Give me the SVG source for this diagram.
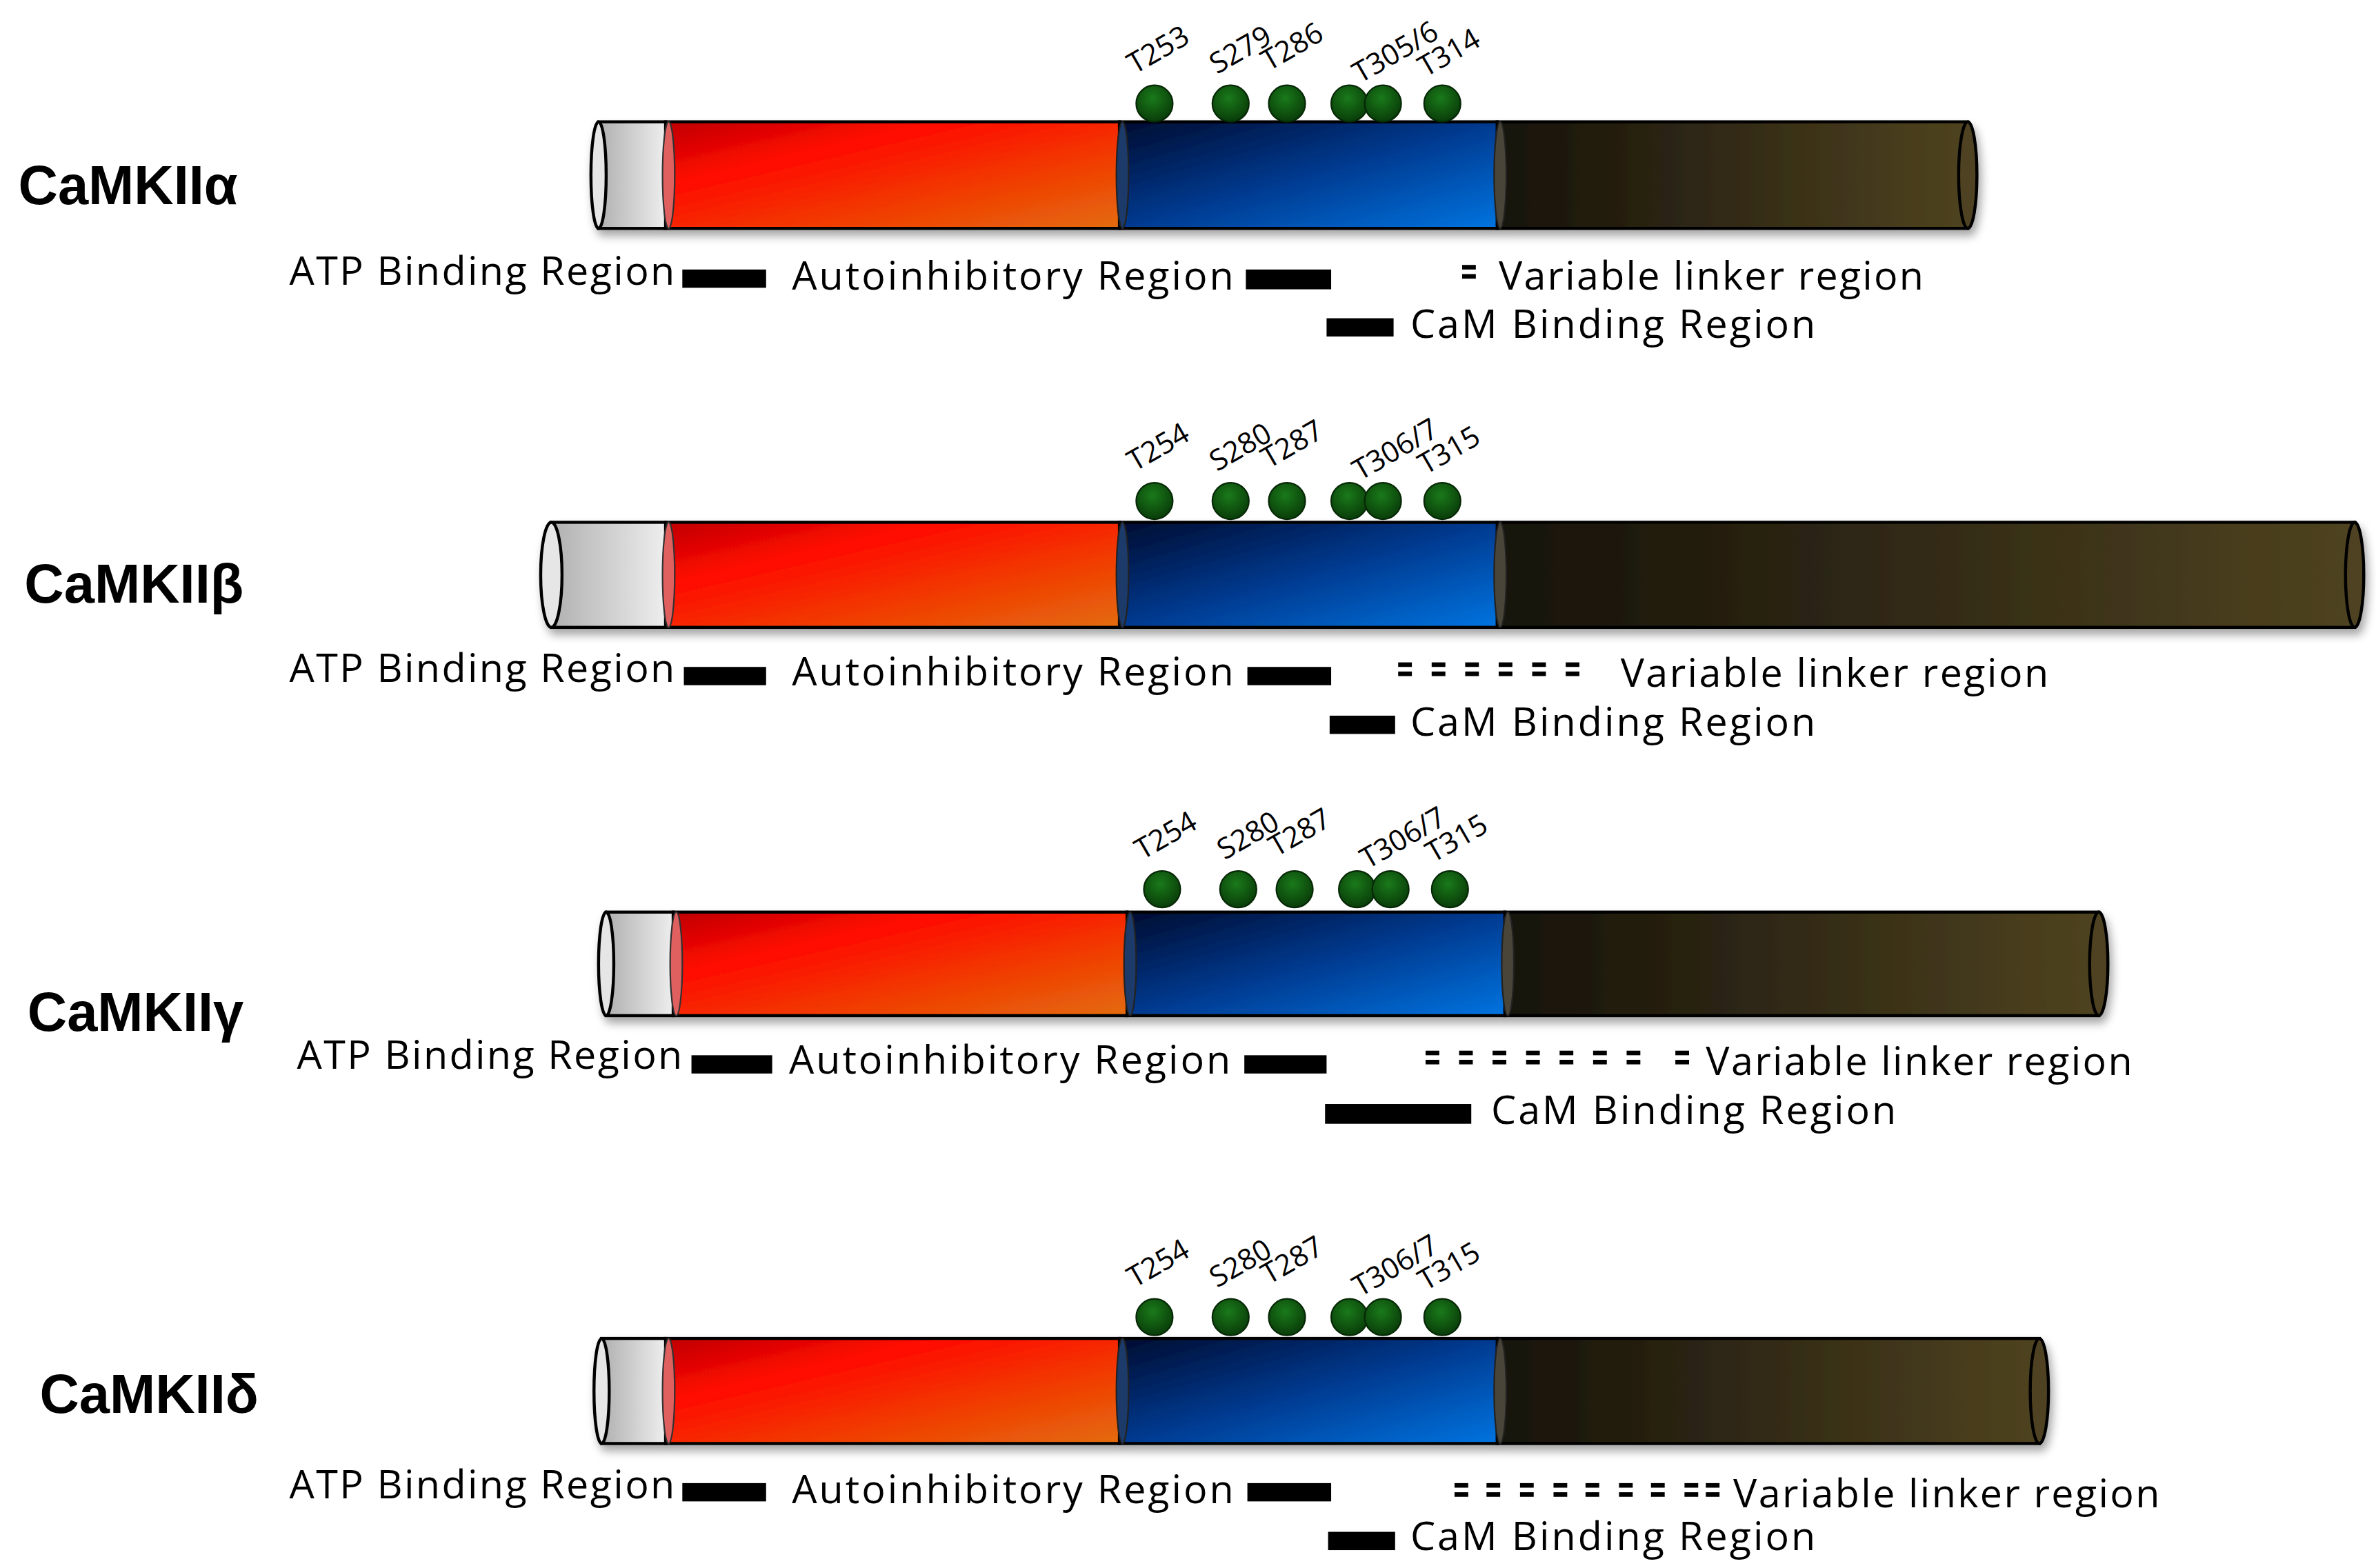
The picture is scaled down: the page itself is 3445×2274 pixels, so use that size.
<svg xmlns="http://www.w3.org/2000/svg" xmlns:xlink="http://www.w3.org/1999/xlink" width="3445" height="2274" viewBox="0 0 3445 2274">
<defs>
<linearGradient id="gRed" x1="0" y1="0" x2="1" y2="1"><stop offset="0" stop-color="#c00000"/><stop offset="0.3" stop-color="#ff0a00"/><stop offset="1" stop-color="#e36c09"/></linearGradient>
<linearGradient id="gBlue" x1="0" y1="0" x2="1" y2="1"><stop offset="0" stop-color="#000c30"/><stop offset="0.5" stop-color="#003a90"/><stop offset="1" stop-color="#0074e0"/></linearGradient>
<linearGradient id="gDark" x1="0" y1="0" x2="1" y2="0"><stop offset="0" stop-color="#16120a"/><stop offset="1" stop-color="#4f4320"/></linearGradient>
<linearGradient id="gCap" x1="0" y1="0" x2="1" y2="0"><stop offset="0" stop-color="#b0b0b0"/><stop offset="1" stop-color="#eeeeee"/></linearGradient>
<radialGradient id="gDot" cx="0.45" cy="0.35" r="0.7"><stop offset="0" stop-color="#1a7a1a"/><stop offset="1" stop-color="#083808"/></radialGradient>
<filter id="sh" x="-5%" y="-20%" width="110%" height="160%"><feDropShadow dx="2" dy="4" stdDeviation="3" flood-color="#000" flood-opacity="0.35"/></filter>
<g id="dot"><ellipse cx="0" cy="0" rx="12" ry="12" fill="url(#gDot)" stroke="#062806" stroke-width="1"/></g>
<g id="dash"><rect x="0" y="0" width="9" height="3" fill="#000"/><rect x="0" y="6" width="9" height="3" fill="#000"/></g>
</defs>
<style>
.lab{font-family:"Open Sans","Liberation Sans",sans-serif;font-size:26px;fill:#000}
.name{font-family:"Liberation Sans","DejaVu Sans",sans-serif;font-size:36px;font-weight:bold;fill:#000}
.site{font-family:"Open Sans","Liberation Sans",sans-serif;font-size:19px;fill:#000}
.bar{fill:#000}
.seg{stroke:#000;stroke-width:2}
</style>
<rect width="3445" height="2274" fill="#fff"/>
<g transform="scale(2.2083)">

<!-- alpha -->
<g id="alpha">
<text class="name" x="12" y="134">CaMKIIα</text>
<g filter="url(#sh)">
<rect class="seg" x="983" y="80" width="309" height="70" fill="url(#gDark)"/>
<ellipse cx="1292" cy="115" rx="6" ry="35" fill="#4f4320" stroke="#000" stroke-width="2"/>
<rect class="seg" x="735" y="80" width="248" height="70" fill="url(#gBlue)"/>
<rect class="seg" x="437" y="80" width="298" height="70" fill="url(#gRed)"/>
<rect class="seg" x="393" y="80" width="44" height="70" fill="url(#gCap)"/>
<ellipse cx="393" cy="115" rx="5" ry="35" fill="#e6e6e6" stroke="#000" stroke-width="2"/>
<ellipse cx="439" cy="115" rx="4" ry="35" fill="#e06060" stroke="#333" stroke-width="1"/>
<ellipse cx="737" cy="115" rx="4" ry="35" fill="#1e3a6a" stroke="#222" stroke-width="1"/>
<ellipse cx="985" cy="115" rx="4" ry="35" fill="#4a4538" stroke="#222" stroke-width="1"/>
</g>
<use href="#dot" x="758" y="68"/><use href="#dot" x="808" y="68"/><use href="#dot" x="845" y="68"/><use href="#dot" x="886" y="68"/><use href="#dot" x="908" y="68"/><use href="#dot" x="947" y="68"/>
<text class="site" transform="translate(745,49) rotate(-30)">T253</text>
<text class="site" transform="translate(799,49) rotate(-30)">S279</text>
<text class="site" transform="translate(833,47) rotate(-30)">T286</text>
<text class="site" transform="translate(893,55) rotate(-30)">T305/6</text>
<text class="site" transform="translate(936,51) rotate(-30)">T314</text>
<text class="lab" x="190" y="187" textLength="253">ATP Binding Region</text>
<rect class="bar" x="448" y="177" width="55" height="12"/>
<text class="lab" x="520" y="190" textLength="290">Autoinhibitory Region</text>
<rect class="bar" x="818" y="177" width="56" height="13"/>
<use href="#dash" x="960" y="174"/>
<text class="lab" x="984" y="190" textLength="279">Variable linker region</text>
<rect class="bar" x="871" y="209" width="44" height="12"/>
<text class="lab" x="926" y="222" textLength="266">CaM Binding Region</text>
</g>

<!-- beta -->
<g id="beta">
<text class="name" x="16" y="396">CaMKIIβ</text>
<g filter="url(#sh)">
<rect class="seg" x="983" y="343" width="563" height="69" fill="url(#gDark)"/>
<ellipse cx="1546" cy="377.5" rx="6" ry="34.5" fill="#4f4320" stroke="#000" stroke-width="2"/>
<rect class="seg" x="735" y="343" width="248" height="69" fill="url(#gBlue)"/>
<rect class="seg" x="437" y="343" width="298" height="69" fill="url(#gRed)"/>
<rect class="seg" x="362" y="343" width="75" height="69" fill="url(#gCap)"/>
<ellipse cx="362" cy="377.5" rx="7" ry="34.5" fill="#e6e6e6" stroke="#000" stroke-width="2"/>
<ellipse cx="439" cy="377.5" rx="4" ry="34.5" fill="#e06060" stroke="#333" stroke-width="1"/>
<ellipse cx="737" cy="377.5" rx="4" ry="34.5" fill="#1e3a6a" stroke="#222" stroke-width="1"/>
<ellipse cx="985" cy="377.5" rx="4" ry="34.5" fill="#4a4538" stroke="#222" stroke-width="1"/>
</g>
<use href="#dot" x="758" y="329"/><use href="#dot" x="808" y="329"/><use href="#dot" x="845" y="329"/><use href="#dot" x="886" y="329"/><use href="#dot" x="908" y="329"/><use href="#dot" x="947" y="329"/>
<text class="site" transform="translate(745,310) rotate(-30)">T254</text>
<text class="site" transform="translate(799,310) rotate(-30)">S280</text>
<text class="site" transform="translate(833,308) rotate(-30)">T287</text>
<text class="site" transform="translate(893,316) rotate(-30)">T306/7</text>
<text class="site" transform="translate(936,312) rotate(-30)">T315</text>
<text class="lab" x="190" y="448" textLength="253">ATP Binding Region</text>
<rect class="bar" x="449" y="438" width="54" height="12"/>
<text class="lab" x="520" y="450" textLength="290">Autoinhibitory Region</text>
<rect class="bar" x="819" y="438" width="55" height="12"/>
<use href="#dash" x="918" y="435"/><use href="#dash" x="940" y="435"/><use href="#dash" x="962" y="435"/><use href="#dash" x="984" y="435"/><use href="#dash" x="1006" y="435"/><use href="#dash" x="1028" y="435"/>
<text class="lab" x="1064" y="451" textLength="281">Variable linker region</text>
<rect class="bar" x="873" y="470" width="43" height="12"/>
<text class="lab" x="926" y="483" textLength="266">CaM Binding Region</text>
</g>

<!-- gamma -->
<g id="gamma">
<text class="name" x="18" y="677">CaMKIIγ</text>
<g filter="url(#sh)">
<rect class="seg" x="988" y="599" width="390" height="68" fill="url(#gDark)"/>
<ellipse cx="1378" cy="633" rx="6" ry="34" fill="#4f4320" stroke="#000" stroke-width="2"/>
<rect class="seg" x="740" y="599" width="248" height="68" fill="url(#gBlue)"/>
<rect class="seg" x="442" y="599" width="298" height="68" fill="url(#gRed)"/>
<rect class="seg" x="398" y="599" width="44" height="68" fill="url(#gCap)"/>
<ellipse cx="398" cy="633" rx="5" ry="34" fill="#e6e6e6" stroke="#000" stroke-width="2"/>
<ellipse cx="444" cy="633" rx="4" ry="34" fill="#e06060" stroke="#333" stroke-width="1"/>
<ellipse cx="742" cy="633" rx="4" ry="34" fill="#1e3a6a" stroke="#222" stroke-width="1"/>
<ellipse cx="990" cy="633" rx="4" ry="34" fill="#4a4538" stroke="#222" stroke-width="1"/>
</g>
<use href="#dot" x="763" y="584"/><use href="#dot" x="813" y="584"/><use href="#dot" x="850" y="584"/><use href="#dot" x="891" y="584"/><use href="#dot" x="913" y="584"/><use href="#dot" x="952" y="584"/>
<text class="site" transform="translate(750,565) rotate(-30)">T254</text>
<text class="site" transform="translate(804,565) rotate(-30)">S280</text>
<text class="site" transform="translate(838,563) rotate(-30)">T287</text>
<text class="site" transform="translate(898,571) rotate(-30)">T306/7</text>
<text class="site" transform="translate(941,567) rotate(-30)">T315</text>
<text class="lab" x="195" y="702" textLength="253">ATP Binding Region</text>
<rect class="bar" x="454" y="693" width="53" height="12"/>
<text class="lab" x="518" y="705" textLength="290">Autoinhibitory Region</text>
<rect class="bar" x="817" y="693" width="54" height="12"/>
<use href="#dash" x="936" y="690"/><use href="#dash" x="958" y="690"/><use href="#dash" x="980" y="690"/><use href="#dash" x="1002" y="690"/><use href="#dash" x="1024" y="690"/><use href="#dash" x="1046" y="690"/><use href="#dash" x="1068" y="690"/><use href="#dash" x="1100" y="690"/>
<text class="lab" x="1120" y="706" textLength="280">Variable linker region</text>
<rect class="bar" x="870" y="725" width="96" height="13"/>
<text class="lab" x="979" y="738" textLength="266">CaM Binding Region</text>
</g>

<!-- delta -->
<g id="delta">
<text class="name" x="26" y="928">CaMKIIδ</text>
<g filter="url(#sh)">
<rect class="seg" x="983" y="879" width="356" height="69" fill="url(#gDark)"/>
<ellipse cx="1339" cy="913.5" rx="6" ry="34.5" fill="#4f4320" stroke="#000" stroke-width="2"/>
<rect class="seg" x="735" y="879" width="248" height="69" fill="url(#gBlue)"/>
<rect class="seg" x="437" y="879" width="298" height="69" fill="url(#gRed)"/>
<rect class="seg" x="395" y="879" width="42" height="69" fill="url(#gCap)"/>
<ellipse cx="395" cy="913.5" rx="5" ry="34.5" fill="#e6e6e6" stroke="#000" stroke-width="2"/>
<ellipse cx="439" cy="913.5" rx="4" ry="34.5" fill="#e06060" stroke="#333" stroke-width="1"/>
<ellipse cx="737" cy="913.5" rx="4" ry="34.5" fill="#1e3a6a" stroke="#222" stroke-width="1"/>
<ellipse cx="985" cy="913.5" rx="4" ry="34.5" fill="#4a4538" stroke="#222" stroke-width="1"/>
</g>
<use href="#dot" x="758" y="865"/><use href="#dot" x="808" y="865"/><use href="#dot" x="845" y="865"/><use href="#dot" x="886" y="865"/><use href="#dot" x="908" y="865"/><use href="#dot" x="947" y="865"/>
<text class="site" transform="translate(745,846) rotate(-30)">T254</text>
<text class="site" transform="translate(799,846) rotate(-30)">S280</text>
<text class="site" transform="translate(833,844) rotate(-30)">T287</text>
<text class="site" transform="translate(893,852) rotate(-30)">T306/7</text>
<text class="site" transform="translate(936,848) rotate(-30)">T315</text>
<text class="lab" x="190" y="984" textLength="253">ATP Binding Region</text>
<rect class="bar" x="448" y="974" width="55" height="12"/>
<text class="lab" x="520" y="987" textLength="290">Autoinhibitory Region</text>
<rect class="bar" x="819" y="974" width="55" height="12"/>
<use href="#dash" x="955" y="974"/><use href="#dash" x="976" y="974"/><use href="#dash" x="998" y="974"/><use href="#dash" x="1020" y="974"/><use href="#dash" x="1041" y="974"/><use href="#dash" x="1063" y="974"/><use href="#dash" x="1084" y="974"/><use href="#dash" x="1106" y="974"/><use href="#dash" x="1120" y="974"/>
<text class="lab" x="1138" y="990" textLength="280">Variable linker region</text>
<rect class="bar" x="872" y="1006" width="44" height="12"/>
<text class="lab" x="926" y="1018" textLength="266">CaM Binding Region</text>
</g>

</g>
</svg>
